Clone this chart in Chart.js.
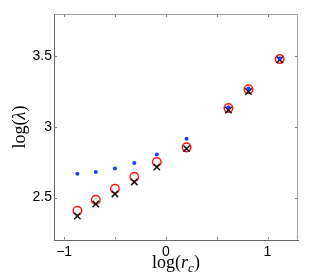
<!DOCTYPE html>
<html>
<head>
<meta charset="utf-8">
<script src="https://cdn.jsdelivr.net/npm/chart.js@4.4.1/dist/chart.umd.min.js"></script>
<style>
  html, body { margin: 0; padding: 0; background: #fff; }
  #wrap { width: 322px; height: 276px; }
</style>
</head>
<body>
<div id="wrap"><canvas id="chart" width="322" height="276"></canvas></div>
<script>
// log(r_c) positions, shared by the three series
var logRc = [-0.870, -0.689, -0.501, -0.310, -0.089, 0.204, 0.616, 0.813, 1.120];
// log(lambda) values
var blueDots = [2.669, 2.681, 2.707, 2.745, 2.806, 2.916, 3.139, 3.272, 3.486];
var redCircles = [2.407, 2.484, 2.562, 2.647, 2.752, 2.856, 3.134, 3.267, 3.481];
var blackCrosses = [2.370, 2.455, 2.526, 2.611, 2.717, 2.847, 3.120, 3.251, 3.476];

var xTicks = [-1, -0.5, 0, 0.5, 1];
var xTickLabels = ['\u22121', '', '0', '', '1'];
var yTicks = [2.5, 3, 3.5];
var yTickLabels = ['2.5', '3', '3.5'];

function points(ys) {
    return ys.map((y, i) => ({ x: logRc[i], y: y }));
}

// MATLAB-style box: light top/right edges, small inward ticks, LaTeX-ish titles
var matlabBox = {
    id: 'matlabBox',
    afterDraw(chart) {
        const ctx = chart.ctx;
        const a = chart.chartArea;
        const xs = chart.scales.x;
        const ys = chart.scales.y;
        const L = Math.round(a.left) + 0.5, R = Math.round(a.right) - 0.5;
        const T = Math.round(a.top) + 0.5, B = Math.round(a.bottom) - 0.5;

        ctx.save();
        ctx.lineWidth = 1;
        ctx.strokeStyle = '#a0a0a0';
        ctx.beginPath();
        ctx.moveTo(L, T); ctx.lineTo(R, T); ctx.lineTo(R, B);
        ctx.stroke();

        ctx.strokeStyle = '#808080';
        const tl = 2.5;
        ctx.beginPath();
        xTicks.forEach(v => {
            const px = Math.round(xs.getPixelForValue(v)) + 0.5;
            ctx.moveTo(px, B); ctx.lineTo(px, B - tl);
            ctx.moveTo(px, T); ctx.lineTo(px, T + tl);
        });
        yTicks.forEach(v => {
            const py = Math.round(ys.getPixelForValue(v)) + 0.5;
            ctx.moveTo(L, py); ctx.lineTo(L + tl, py);
            ctx.moveTo(R, py); ctx.lineTo(R - tl, py);
        });
        ctx.stroke();

        // x title: log(r_c)
        ctx.fillStyle = '#000';
        ctx.textBaseline = 'alphabetic';
        const reg = '18px "Liberation Serif"';
        const ita = 'italic 18px "Liberation Serif"';
        const sub = 'italic 13px "Liberation Serif"';
        const parts = [['log(', reg, 0], ['r', ita, 0], ['c', sub, 3.5], [')', reg, 0]];
        let w = 0;
        parts.forEach(p => { ctx.font = p[1]; p.push(ctx.measureText(p[0]).width); w += p[3]; });
        let x = (a.left + a.right) / 2 - w / 2;
        const base = 268;
        parts.forEach(p => {
            ctx.font = p[1];
            ctx.fillText(p[0], x, base + p[2]);
            x += p[3];
        });

        // y title: log(λ), rotated
        ctx.translate(24.5, (a.top + a.bottom) / 2);
        ctx.rotate(-Math.PI / 2);
        const yparts = [['log(', reg], ['\u03bb', ita], [')', reg]];
        let yw = 0;
        yparts.forEach(p => { ctx.font = p[1]; p.push(ctx.measureText(p[0]).width); yw += p[2]; });
        let yx = -yw / 2;
        yparts.forEach(p => {
            ctx.font = p[1];
            ctx.fillText(p[0], yx, 0);
            yx += p[2];
        });
        ctx.restore();
    }
};

var tickFont = { family: '"Liberation Sans", Arial, sans-serif', size: 14 };

new Chart(document.getElementById('chart').getContext('2d'), {
    type: 'scatter',
    data: {
        datasets: [
            {
                label: 'blue',
                data: points(blueDots),
                pointStyle: 'circle',
                pointRadius: 2,
                backgroundColor: '#1f3dff',
                borderColor: '#1f3dff',
                borderWidth: 0,
                order: 0
            },
            {
                label: 'cross',
                data: points(blackCrosses),
                pointStyle: 'crossRot',
                pointRadius: 4.5,
                borderColor: '#111',
                borderWidth: 1.5,
                order: 1
            },
            {
                label: 'circle',
                data: points(redCircles),
                pointStyle: 'circle',
                pointRadius: 4.3,
                backgroundColor: 'rgba(0,0,0,0)',
                borderColor: '#ff1a1a',
                borderWidth: 1.5,
                order: 2
            }
        ]
    },
    options: {
        responsive: false,
        animation: false,
        layout: { padding: { top: 14, right: 24, left: 0, bottom: 0 } },
        plugins: {
            legend: { display: false },
            tooltip: { enabled: false }
        },
        scales: {
            x: {
                type: 'linear',
                min: -1.1,
                max: 1.3,
                afterBuildTicks: s => { s.ticks = xTicks.map(v => ({ value: v })); },
                afterFit: s => { s.height = 36; },
                grid: { drawOnChartArea: false, drawTicks: false },
                border: { display: true, color: '#666', width: 1 },
                ticks: {
                    font: tickFont,
                    color: '#000',
                    padding: 4,
                    maxRotation: 0,
                    autoSkip: false,
                    callback: (v, i) => xTickLabels[i]
                }
            },
            y: {
                type: 'linear',
                min: 2.2,
                max: 3.8,
                afterBuildTicks: s => { s.ticks = yTicks.map(v => ({ value: v })); },
                afterFit: s => { s.width = 54; },
                grid: { drawOnChartArea: false, drawTicks: false },
                border: { display: true, color: '#666', width: 1 },
                ticks: {
                    font: tickFont,
                    color: '#000',
                    padding: 2,
                    autoSkip: false,
                    callback: (v, i) => yTickLabels[i]
                }
            }
        }
    },
    plugins: [matlabBox]
});
</script>
</body>
</html>
